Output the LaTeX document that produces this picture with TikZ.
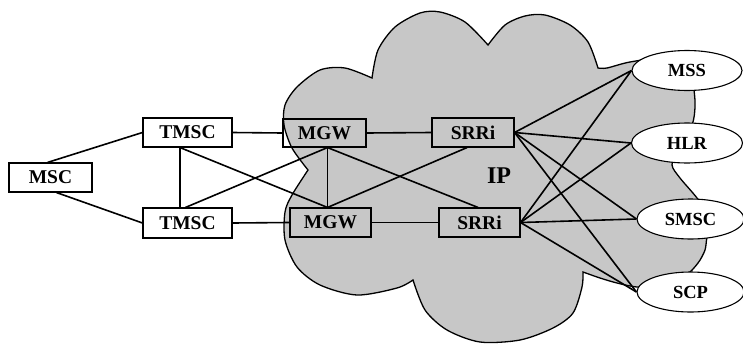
\documentclass[tikz,border=0pt]{standalone}
\usepackage{fontspec}
\setmainfont{Liberation Serif}
\usetikzlibrary{shapes.geometric}
\begin{document}
\begin{tikzpicture}[x=1pt,y=-1pt,
  boxnode/.style={draw, line width=1.1pt, inner sep=0pt, font=\fontsize{19.5}{21}\selectfont\bfseries},
  ovalnode/.style={draw, ellipse, fill=white, line width=1.1pt, inner sep=0pt,
     minimum width=110pt, minimum height=40pt, font=\fontsize{18.5}{20}\selectfont\bfseries},
  link/.style={line width=1.6pt},
  cloudshape/.style={draw, line width=1.3pt, fill=black!22}]
\useasboundingbox (0,0) rectangle (743,343);
% cloud
\path[cloudshape]
  plot[smooth] coordinates {(413,280) (397,288) (357,295) (320,285) (297,267) (285,240) (285,212) (292,195) (308,170)}
  -- plot[smooth] coordinates {(308,170) (292,148) (284,125) (285,105) (297,87) (320,70) (345,68) (372,78)}
  -- plot[smooth] coordinates {(372,78) (378,50) (395,27) (420,13) (440,12) (465,22) (488,45)}
  -- plot[smooth] coordinates {(488,45) (505,25) (525,16) (545,15) (570,25) (588,42) (598,68)}
  -- plot[smooth] coordinates {(598,68) (607,68) (630,62) (665,58) (690,68) (694,90) (695,107) (692,125) (678,150) (672,165) (680,178) (697,198) (712,220) (707,237) (705,250) (698,263) (685,276) (660,286) (637,287) (617,283) (600,278) (583,272)}
  -- plot[smooth] coordinates {(583,272) (582,287) (573,313) (553,328) (520,340) (480,342) (447,330) (425,310) (413,280)}
  -- cycle;
% nodes
\node[boxnode, minimum width=83pt, minimum height=29pt] (msc) at (50.5,177.5) {MSC};
\node[boxnode, minimum width=89pt, minimum height=29pt] (tA) at (187.5,132.5) {TMSC};
\node[boxnode, minimum width=89pt, minimum height=30pt] (tB) at (187.5,223) {TMSC};
\node[boxnode, minimum width=83pt, minimum height=28pt] (mA) at (324.5,133) {MGW};
\node[boxnode, minimum width=81pt, minimum height=29pt] (mB) at (330.5,222.5) {MGW};
\node[boxnode, minimum width=82pt, minimum height=29pt] (sA) at (473,132.5) {SRRi};
\node[boxnode, minimum width=81pt, minimum height=29pt] (sB) at (479.5,222.5) {SRRi};
\node[font=\fontsize{24}{26}\selectfont\bfseries] (ip) at (499,176) {IP};
% connectors
\draw[link] ([xshift=-3pt]msc.north) -- (tA.west);
\draw[link] ([xshift=6pt]msc.south) -- (tB.west);
\draw[link] (tA.east) -- (mA.west);
\draw[link] (tB.east) -- (mB.west);
\draw[link] ([xshift=-7.5pt]tA.south) -- ([xshift=-7.5pt]tB.north);
\draw[link] ([xshift=-7.5pt]tA.south) -- ([xshift=-3pt]mB.north);
\draw[link] ([xshift=-2pt]tB.north) -- ([xshift=3pt]mA.south);
\draw[link] ([xshift=3pt]mA.south) -- ([xshift=-3pt]mB.north);
\draw[link] (mA.east) -- (sA.west);
\draw[link] (mB.east) -- (sB.west);
\draw[link] ([xshift=3pt]mA.south) -- ([xshift=-1.5pt]sB.north);
\draw[link] ([xshift=-3pt]mB.north) -- ([xshift=-6pt]sA.south);
% ellipses
\node[ovalnode] (mss) at (687,70.5) {MSS};
\node[ovalnode, minimum width=111pt] (hlr) at (687,143) {HLR};
\node[ovalnode, minimum width=107pt] (smsc) at (690.5,219) {SMSC};
\node[ovalnode, minimum width=107pt] (scp) at (690.5,292) {SCP};
\foreach \s in {sA,sB}{
  \foreach \e in {mss,hlr,smsc,scp}{
    \draw[link] (\s.east) -- (\e.west);
  }
}
\end{tikzpicture}
\end{document}
